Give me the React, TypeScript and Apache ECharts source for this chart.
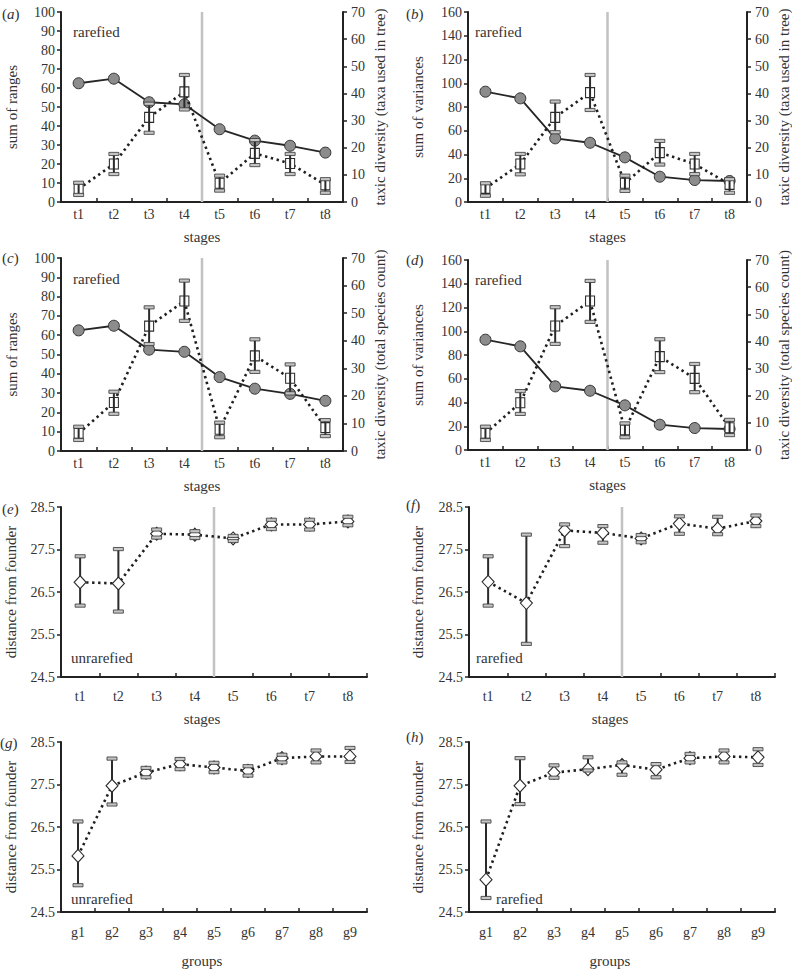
import React, { useEffect, useRef } from "react";
import * as echarts from "echarts";

const FONT = "'Liberation Serif', 'DejaVu Serif', serif";
const TXT = "#333";
const AX = "#222";

const stages = ["t1", "t2", "t3", "t4", "t5", "t6", "t7", "t8"];
const groups = ["g1", "g2", "g3", "g4", "g5", "g6", "g7", "g8", "g9"];
const STAGE_SPLIT = 4; // boundary between t4 and t5

// (a) sum of ranges + taxic diversity (taxa used in tree)
const aRanges = [62.5, 64.9, 52.5, 51.4, 38.3, 32.3, 29.6, 26.0];
const aTaxa = [4.8, 14.0, 31.2, 40.6, 6.9, 17.9, 14.2, 6.3];
const aTaxaLo = [2.6, 10.3, 25.5, 34.1, 4.2, 13.6, 10.3, 3.4];
const aTaxaHi = [7.1, 17.7, 36.2, 46.8, 9.7, 22.8, 17.7, 8.4];

// (b) sum of variances + taxic diversity (taxa used in tree)
const bVar = [92.9, 87.3, 53.6, 49.9, 37.6, 21.3, 18.5, 17.7];
const bTaxa = [5.0, 14.0, 31.2, 40.3, 6.9, 18.2, 14.0, 6.5];
const bTaxaLo = [2.3, 10.2, 25.7, 33.9, 4.1, 13.8, 10.3, 3.4];
const bTaxaHi = [6.9, 17.7, 37.0, 46.8, 9.7, 22.5, 17.7, 8.4];

// (c) sum of ranges + taxic diversity (total species count)
const cRanges = [62.5, 64.9, 52.5, 51.4, 38.3, 32.3, 29.6, 26.0];
const cSpecies = [6.4, 17.6, 45.3, 54.4, 7.9, 34.5, 26.4, 8.5];
const cSpeciesLo = [4.0, 13.5, 38.8, 47.2, 5.0, 28.7, 20.9, 5.4];
const cSpeciesHi = [8.8, 21.5, 52.1, 61.8, 10.3, 40.5, 31.4, 11.2];

// (d) sum of variances + taxic diversity (total species count)
const dVar = [92.9, 87.3, 53.6, 49.9, 37.6, 21.3, 18.5, 17.7];
const dSpecies = [6.1, 17.4, 45.7, 54.9, 7.4, 34.4, 26.4, 8.2];
const dSpeciesLo = [3.7, 13.3, 39.1, 47.2, 4.7, 28.7, 21.3, 5.5];
const dSpeciesHi = [8.6, 21.7, 52.6, 62.3, 9.8, 40.8, 31.7, 11.1];

// (e) distance from founder, stages, unrarefied
const eDist = [26.73, 26.7, 27.87, 27.85, 27.76, 28.09, 28.09, 28.16];
const eLo = [26.18, 26.04, 27.78, 27.77, 27.7, 27.98, 27.97, 28.07];
const eHi = [27.34, 27.51, 27.97, 27.93, 27.82, 28.2, 28.2, 28.27];

// (f) distance from founder, stages, rarefied
const fDist = [26.74, 26.24, 27.95, 27.89, 27.76, 28.11, 27.99, 28.17];
const fLo = [26.18, 25.28, 27.58, 27.66, 27.67, 27.87, 27.86, 28.05];
const fHi = [27.34, 27.85, 28.09, 28.05, 27.84, 28.28, 28.27, 28.3];

// (g) distance from founder, groups, unrarefied
const gDist = [25.82, 27.47, 27.78, 27.98, 27.9, 27.82, 28.12, 28.16, 28.16];
const gLo = [25.13, 27.03, 27.67, 27.86, 27.79, 27.71, 28.02, 28.02, 28.03];
const gHi = [26.63, 28.11, 27.89, 28.1, 28.01, 27.93, 28.2, 28.3, 28.36];

// (h) distance from founder, groups, rarefied
const hDist = [25.26, 27.47, 27.78, 27.86, 27.96, 27.85, 28.12, 28.16, 28.14];
const hLo = [24.83, 27.04, 27.66, 27.83, 27.73, 27.67, 28.02, 28.02, 27.96];
const hHi = [26.63, 28.12, 27.95, 28.14, 28.02, 27.98, 28.22, 28.3, 28.33];

const DIST_MIN = 24.5;
const DIST_MAX = 28.5;

type Panel = {
  letter: string;
  lx: number;
  ly: number;
  box: [number, number, number, number];
  cats: string[];
  xName: string;
  xNameGap: number;
  xLabelMargin: number;
  xNameShift: number;
  leftName: string;
  leftMin: number;
  leftMax: number;
  leftInterval: number;
  leftGap: number;
  rightName?: string;
  rightGap?: number;
  solid?: number[];
  mean: number[];
  lo: number[];
  hi: number[];
  note: string;
  nx: number;
  ny: number;
  split: boolean;
  dist: boolean;
};

const panels: Panel[] = [
  { letter: "a", lx: 2, ly: 14, box: [61, 12, 282, 190], cats: stages, xName: "stages", xNameGap: 27, xLabelMargin: 5, xNameShift: 0,
    leftName: "sum of ranges", leftMin: 0, leftMax: 100, leftInterval: 10, leftGap: 42,
    rightName: "taxic diversity (taxa used in tree)", rightGap: 29,
    solid: aRanges, mean: aTaxa, lo: aTaxaLo, hi: aTaxaHi, note: "rarefied", nx: 73, ny: 32, split: true, dist: false },
  { letter: "b", lx: 406, ly: 14, box: [468, 12, 283, 190], cats: stages, xName: "stages", xNameGap: 27, xLabelMargin: 5, xNameShift: 0,
    leftName: "sum of variances", leftMin: 0, leftMax: 160, leftInterval: 20, leftGap: 43,
    rightName: "taxic diversity (taxa used in tree)", rightGap: 29,
    solid: bVar, mean: bTaxa, lo: bTaxaLo, hi: bTaxaHi, note: "rarefied", nx: 475, ny: 32, split: true, dist: false },
  { letter: "c", lx: 2, ly: 258, box: [61, 258, 282, 193], cats: stages, xName: "stages", xNameGap: 27, xLabelMargin: 5, xNameShift: 0,
    leftName: "sum of ranges", leftMin: 0, leftMax: 100, leftInterval: 10, leftGap: 42,
    rightName: "taxic diversity (total species count)", rightGap: 29,
    solid: cRanges, mean: cSpecies, lo: cSpeciesLo, hi: cSpeciesHi, note: "rarefied", nx: 73, ny: 279, split: true, dist: false },
  { letter: "d", lx: 406, ly: 260, box: [468, 260, 283, 190], cats: stages, xName: "stages", xNameGap: 27, xLabelMargin: 5, xNameShift: 0,
    leftName: "sum of variances", leftMin: 0, leftMax: 160, leftInterval: 20, leftGap: 43,
    rightName: "taxic diversity (total species count)", rightGap: 29,
    solid: dVar, mean: dSpecies, lo: dSpeciesLo, hi: dSpeciesHi, note: "rarefied", nx: 475, ny: 280, split: true, dist: false },
  { letter: "e", lx: 2, ly: 509, box: [61, 507, 306, 170], cats: stages, xName: "stages", xNameGap: 34, xLabelMargin: 12, xNameShift: 24,
    leftName: "distance from founder", leftMin: DIST_MIN, leftMax: DIST_MAX, leftInterval: 1, leftGap: 43,
    mean: eDist, lo: eLo, hi: eHi, note: "unrarefied", nx: 71, ny: 658, split: true, dist: true },
  { letter: "f", lx: 406, ly: 505, box: [469, 507, 306, 170], cats: stages, xName: "stages", xNameGap: 34, xLabelMargin: 12, xNameShift: 24,
    leftName: "distance from founder", leftMin: DIST_MIN, leftMax: DIST_MAX, leftInterval: 1, leftGap: 44,
    mean: fDist, lo: fLo, hi: fHi, note: "rarefied", nx: 476, ny: 658, split: true, dist: true },
  { letter: "g", lx: 0, ly: 743, box: [61, 742, 306, 170], cats: groups, xName: "groups", xNameGap: 41, xLabelMargin: 13, xNameShift: 24,
    leftName: "distance from founder", leftMin: DIST_MIN, leftMax: DIST_MAX, leftInterval: 1, leftGap: 43,
    mean: gDist, lo: gLo, hi: gHi, note: "unrarefied", nx: 71, ny: 899, split: false, dist: true },
  { letter: "h", lx: 406, ly: 737, box: [469, 742, 306, 170], cats: groups, xName: "groups", xNameGap: 41, xLabelMargin: 13, xNameShift: 24,
    leftName: "distance from founder", leftMin: DIST_MIN, leftMax: DIST_MAX, leftInterval: 1, leftGap: 44,
    mean: hDist, lo: hLo, hi: hHi, note: "rarefied", nx: 496, ny: 899, split: false, dist: true },
];

const labelStyle = { fontFamily: FONT, fontSize: 14, color: TXT };
const nameStyle = { fontFamily: FONT, fontSize: 15, color: TXT };

function errorSeries(xi: number, yi: number, lo: number[], hi: number[], off: number, z: number, mode: string) {
  return {
    type: "custom",
    xAxisIndex: xi,
    yAxisIndex: yi,
    z,
    silent: true,
    encode: { x: 0, y: [1, 2] },
    data: lo.map((l, i) => [i, l - off, hi[i] - off]),
    renderItem: (params: any, api: any) => {
      const x = api.value(0);
      const p1 = api.coord([x, api.value(1)]);
      const p2 = api.coord([x, api.value(2)]);
      const children: any[] = [];
      if (mode !== "caps") {
        children.push({
          type: "line",
          shape: { x1: p1[0], y1: p1[1], x2: p2[0], y2: p2[1] },
          style: { stroke: "#2b2b2b", lineWidth: 2 },
        });
      }
      if (mode !== "stem") {
        [p1, p2].forEach((p) =>
          children.push({
            type: "rect",
            shape: { x: p[0] - 5, y: p[1] - 1.6, width: 10, height: 3.2 },
            style: { fill: "#c4c4c4", stroke: "#333", lineWidth: 0.8 },
          })
        );
      }
      return { type: "group", children };
    },
  };
}

function splitSeries(xi: number, yi: number, y0: number) {
  return {
    type: "custom",
    xAxisIndex: xi,
    yAxisIndex: yi,
    z: 1,
    silent: true,
    encode: { x: 0, y: 1 },
    data: [[STAGE_SPLIT - 1, y0, STAGE_SPLIT]],
    renderItem: (params: any, api: any) => {
      const a = api.coord([api.value(0), api.value(1)]);
      const b = api.coord([api.value(2), api.value(1)]);
      const cs = params.coordSys;
      const x = (a[0] + b[0]) / 2;
      return {
        type: "line",
        shape: { x1: x, y1: cs.y, x2: x, y2: cs.y + cs.height },
        style: { stroke: "#c2c2c2", lineWidth: 2.5 },
      };
    },
  };
}

function buildOption() {
  const grid: any[] = [];
  const xAxis: any[] = [];
  const yAxis: any[] = [];
  const series: any[] = [];
  const graphic: any[] = [];

  panels.forEach((p, i) => {
    const [left, top, width, height] = p.box;
    grid.push({ left, top, width, height, containLabel: false });
    xAxis.push({
      type: "category",
      gridIndex: i,
      data: p.cats,
      boundaryGap: true,
      name: p.xName,
      nameLocation: "middle",
      nameGap: p.xNameGap,
      nameTextStyle: { ...nameStyle, padding: [0, p.xNameShift, 0, 0] },
      axisLine: { show: true, lineStyle: { color: AX, width: 2 } },
      axisTick: { show: true, inside: true, length: 4, lineStyle: { color: AX, width: 1.5 } },
      axisLabel: { ...labelStyle, margin: p.xLabelMargin, interval: 0 },
      splitLine: { show: false },
    });
    const off = p.dist ? p.leftMin : 0;
    const leftIdx = yAxis.length;
    yAxis.push({
      type: "value",
      gridIndex: i,
      min: p.leftMin - off,
      max: p.leftMax - off,
      interval: p.leftInterval,
      position: "left",
      name: p.leftName,
      nameLocation: "middle",
      nameRotate: 90,
      nameGap: p.leftGap,
      nameTextStyle: nameStyle,
      axisLine: { show: true, lineStyle: { color: AX, width: 2 } },
      axisTick: { show: true, length: 4, lineStyle: { color: AX, width: 1.5 } },
      axisLabel: {
        ...labelStyle,
        margin: 6,
        formatter: p.dist ? (v: number) => (v + off).toFixed(1) : (v: number) => String(v),
      },
      splitLine: { show: false },
    });
    let rightIdx = leftIdx;
    if (p.rightName) {
      rightIdx = yAxis.length;
      yAxis.push({
        type: "value",
        gridIndex: i,
        min: 0,
        max: 70,
        interval: 10,
        position: "right",
        name: p.rightName,
        nameLocation: "middle",
        nameRotate: 90,
        nameGap: p.rightGap,
        nameTextStyle: nameStyle,
        axisLine: { show: true, lineStyle: { color: AX, width: 2 } },
        axisTick: { show: true, length: 4, lineStyle: { color: AX, width: 1.5 } },
        axisLabel: { ...labelStyle, margin: 8 },
        splitLine: { show: false },
      });
    }

    if (p.split) series.push(splitSeries(i, leftIdx, p.leftMin - off));

    if (p.solid) {
      series.push({
        type: "line",
        xAxisIndex: i,
        yAxisIndex: leftIdx,
        data: p.solid,
        z: 2,
        symbol: "circle",
        symbolSize: 11,
        itemStyle: { color: "#8c8c8c", borderColor: "#333", borderWidth: 1 },
        lineStyle: { color: "#262626", width: 1.8 },
        silent: true,
      });
    }

    const meanIdx = p.rightName ? rightIdx : leftIdx;
    series.push({
      type: "line",
      xAxisIndex: i,
      yAxisIndex: meanIdx,
      data: p.mean.map((v) => v - off),
      z: 3,
      symbol: p.dist ? "diamond" : "rect",
      symbolSize: p.dist ? [12, 13] : [9, 10],
      itemStyle: { color: "#fff", borderColor: "#2b2b2b", borderWidth: 1.1 },
      lineStyle: { color: "#1f1f1f", width: 2.6, type: [2.4, 3.6] },
      silent: true,
    });

    if (p.dist) {
      series.push(errorSeries(i, meanIdx, p.lo, p.hi, off, 2, "stem"));
      series.push(errorSeries(i, meanIdx, p.lo, p.hi, off, 4, "caps"));
    } else {
      series.push(errorSeries(i, meanIdx, p.lo, p.hi, off, 4, "all"));
    }

    graphic.push({
      type: "text",
      left: p.lx,
      top: p.ly - 8,
      style: {
        text: "({i|" + p.letter + "})",
        fontFamily: FONT,
        fontSize: 15,
        fill: TXT,
        rich: { i: { fontStyle: "italic", fontFamily: FONT, fontSize: 15, fill: TXT } },
      },
      silent: true,
    });
    graphic.push({
      type: "text",
      left: p.nx,
      top: p.ny - 8,
      style: { text: p.note, fontFamily: FONT, fontSize: 15, fill: TXT },
      silent: true,
    });
  });

  return {
    animation: false,
    backgroundColor: "#fff",
    textStyle: { fontFamily: FONT },
    grid,
    xAxis,
    yAxis,
    series,
    graphic,
  };
}

export default function App() {
  const ref = useRef<HTMLDivElement>(null);
  useEffect(() => {
    document.body.style.margin = "0";
    if (!ref.current) return;
    const chart = echarts.init(ref.current, undefined, { renderer: "svg" });
    chart.setOption(buildOption() as any);
    return () => chart.dispose();
  }, []);
  return <div ref={ref} style={{ width: 792, height: 969 }} />;
}
